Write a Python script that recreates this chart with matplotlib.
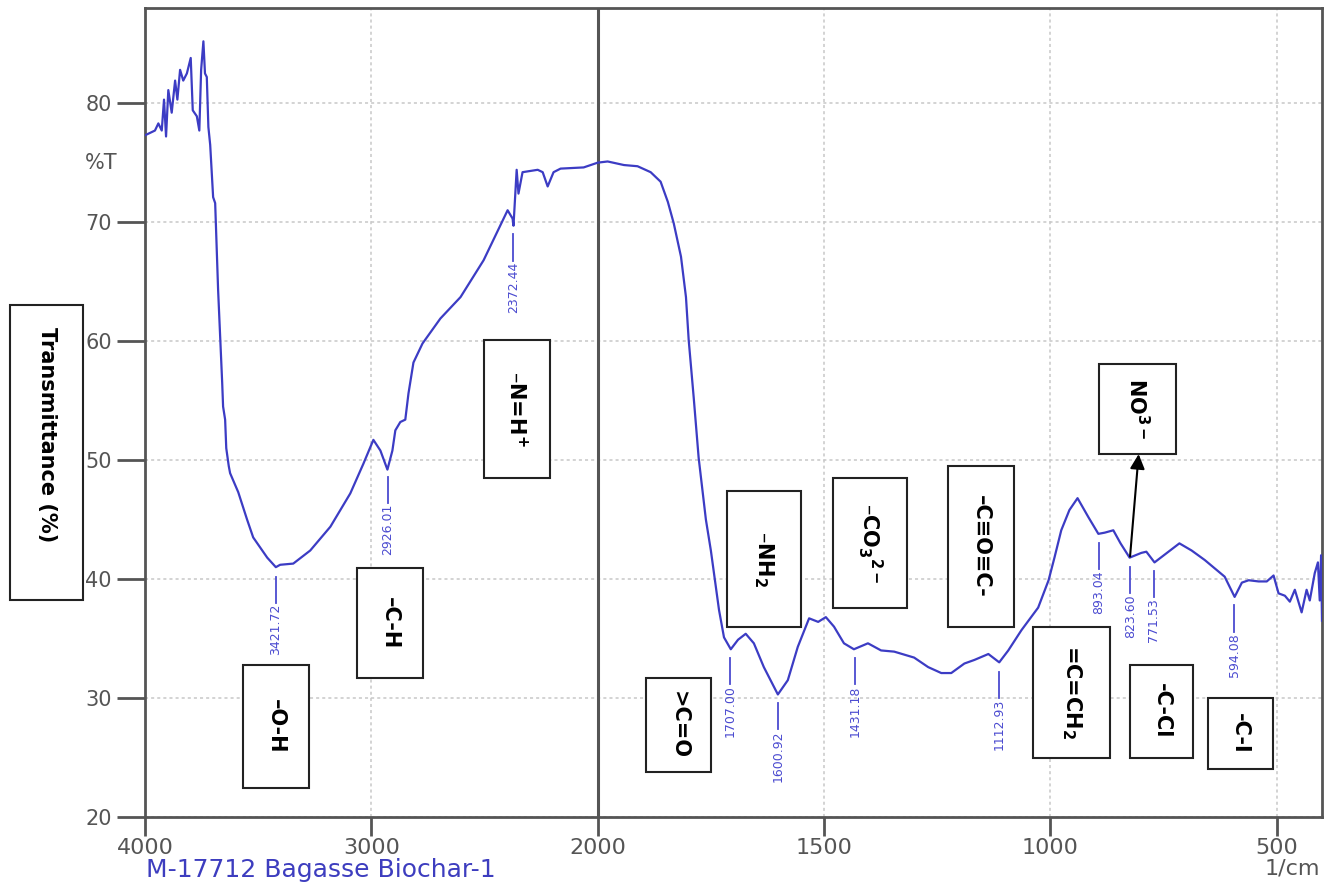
import numpy as np
import matplotlib
matplotlib.use("Agg")
import matplotlib.pyplot as plt
from matplotlib.patches import Rectangle
from matplotlib.ticker import NullLocator

plt.rcParams['font.family'] = ['DejaVu Sans']
plt.rcParams['mathtext.default'] = 'bf'

# FTIR spectrum (wavenumber 1/cm, transmittance %)
wavenumber = [4000, 3978, 3956, 3941, 3926, 3916, 3907, 3897, 3882, 3867, 3857, 3845,
              3831, 3815, 3798, 3789, 3771, 3760, 3752, 3742, 3735, 3727, 3720, 3712,
              3699, 3690, 3677, 3659, 3655, 3646, 3641, 3630, 3624, 3588, 3549, 3522,
              3460, 3422, 3403, 3345, 3270, 3181, 3093, 3035, 2991, 2960, 2929, 2907,
              2894, 2872, 2850, 2836, 2814, 2774, 2695, 2606, 2504, 2398, 2376, 2372,
              2358, 2350, 2332, 2265, 2243, 2221, 2195, 2164, 2062, 2000, 1978, 1942,
              1912, 1883, 1861, 1845, 1832, 1816, 1805, 1799, 1788, 1777, 1761, 1750,
              1732, 1721, 1706, 1690, 1673, 1655, 1633, 1602, 1580, 1558, 1533, 1513,
              1496, 1478, 1456, 1434, 1403, 1374, 1345, 1301, 1270, 1241, 1219, 1190,
              1168, 1137, 1113, 1093, 1064, 1027, 1004, 991, 976, 958, 940, 916,
              894, 880, 861, 845, 825, 799, 788, 770, 739, 715, 688, 659,
              637, 615, 593, 577, 562, 540, 522, 507, 496, 482, 471, 460,
              445, 434, 427, 416, 409, 405, 402, 400]
transmittance = [77.3, 77.5, 77.7, 78.3, 77.7, 80.3, 77.2, 81.1, 79.2, 81.9, 80.3, 82.8,
                 81.9, 82.5, 83.8, 79.4, 78.9, 77.7, 82.8, 85.2, 82.5, 82.2, 78.0, 76.5,
                 72.1, 71.6, 64.3, 56.5, 54.5, 53.4, 51.0, 49.5, 48.9, 47.3, 45.0, 43.5,
                 41.8, 41.0, 41.2, 41.3, 42.4, 44.4, 47.2, 49.7, 51.7, 50.8, 49.2, 50.8,
                 52.5, 53.2, 53.4, 55.6, 58.2, 59.8, 61.9, 63.7, 66.8, 71.0, 70.3, 69.7,
                 74.4, 72.4, 74.2, 74.4, 74.2, 73.0, 74.2, 74.5, 74.6, 75.0, 75.1, 74.8,
                 74.7, 74.2, 73.4, 71.7, 69.9, 67.1, 63.7, 60.1, 55.3, 50.2, 45.0, 42.4,
                 37.4, 35.1, 34.1, 34.9, 35.4, 34.6, 32.6, 30.3, 31.5, 34.3, 36.7, 36.4,
                 36.8, 36.0, 34.6, 34.1, 34.6, 34.0, 33.9, 33.4, 32.6, 32.1, 32.1, 32.9,
                 33.2, 33.7, 33.0, 34.0, 35.7, 37.6, 39.9, 41.8, 44.1, 45.8, 46.8, 45.2,
                 43.8, 43.9, 44.1, 43.0, 41.8, 42.2, 42.3, 41.4, 42.3, 43.0, 42.4, 41.6,
                 40.9, 40.2, 38.5, 39.7, 39.9, 39.8, 39.8, 40.3, 38.8, 38.6, 38.1, 39.1,
                 37.2, 39.1, 38.2, 40.5, 41.4, 38.2, 42.0, 36.5]

peak_wn = [3421.72, 2926.01, 2372.44, 1707.00, 1600.92, 1431.18, 1112.93,
           893.04, 823.60, 771.53, 594.08]
peak_text = ["3421.72", "2926.01", "2372.44", "1707.00", "1600.92", "1431.18",
             "1112.93", "893.04", "823.60", "771.53", "594.08"]

x_ticks = [4000, 3000, 2000, 1500, 1000, 500]
y_ticks = [20, 30, 40, 50, 60, 70, 80]

# functional group boxes: text, left wn, right wn, bottom %T, top %T
groups = [("–O-H", 3566, 3274, 22.4, 32.8),
          ("–C-H", 3062, 2770, 31.7, 40.9),
          ("–N=H$^{+}$", 2504, 2212, 48.5, 60.1),
          (">C=O", 1894, 1750, 23.8, 31.7),
          ("–NH$_2$", 1715, 1551, 36.0, 47.4),
          ("–CO$_3$$^{2-}$", 1480, 1316, 37.6, 48.5),
          ("–C≡O≡C-", 1226, 1080, 36.0, 49.5),
          ("=C=CH$_2$", 1038, 869, 25.0, 36.0),
          ("NO$^{3-}$", 892, 723, 50.5, 58.1),
          ("-C-Cl", 825, 684, 25.0, 32.8),
          ("-C-I", 652, 509, 24.0, 30.0)]


def fwd(w):
    w = np.asarray(w, dtype=float)
    return np.where(w > 2000, 2000 + (w - 2000) / 2, w)


def inv(u):
    u = np.asarray(u, dtype=float)
    return np.where(u > 2000, 2000 + (u - 2000) * 2, u)


W, H = 1326, 883
fig = plt.figure(figsize=(W / 100, H / 100), dpi=100)
ax = fig.add_axes([145 / W, 1 - 817 / H, (1322 - 145) / W, (817 - 8) / H])
ax.set_xscale('function', functions=(fwd, inv))

ax.plot(wavenumber, transmittance, color='#3c3cc4', lw=1.6, zorder=3)

ax.set_xlim(4000, 400)
ax.set_ylim(20, 88)
ax.set_xticks(x_ticks)
ax.set_xticklabels([str(t) for t in x_ticks])
ax.xaxis.set_minor_locator(NullLocator())
ax.set_yticks(y_ticks)
ax.grid(True, linestyle=(0, (2, 2)), color='#c8c8c8', lw=1.1, zorder=0)
ax.axvline(2000, color='#555555', lw=2.2, zorder=2)

for s in ax.spines.values():
    s.set_color('#555555')
    s.set_linewidth(2)
ax.tick_params(axis='y', direction='out', length=20, width=2, color='#555555',
               labelsize=15, labelcolor='#555555', pad=4)
ax.tick_params(axis='x', direction='out', length=14, width=2, color='#555555',
               labelsize=16, labelcolor='#555555', pad=1)

# peak markers
wn_sorted = np.array(wavenumber[::-1], dtype=float)
t_sorted = np.array(transmittance[::-1], dtype=float)
for w, txt in zip(peak_wn, peak_text):
    base = np.interp(w, wn_sorted, t_sorted)
    y0, y1 = base - 0.8, base - 3.0
    ax.plot([w, w], [y0, y1], color='#4b4bd0', lw=1.3, zorder=3)
    ax.text(w, y1 - 0.1, txt, rotation=90, ha='center', va='top',
            fontsize=9, color='#4b4bd0', zorder=3)

# group boxes
for txt, wl, wr, yb, yt in groups:
    ax.add_patch(Rectangle((wr, yb), wl - wr, yt - yb, fill=True, fc='white',
                           ec='#222222', lw=1.5, zorder=4))
    wc = inv((fwd(wl) + fwd(wr)) / 2)
    ax.text(float(wc), (yb + yt) / 2, txt, rotation=-90, ha='center', va='center',
            fontsize=15, fontweight='bold', color='black', zorder=5)

ax.annotate('', xy=(805, 50.5), xytext=(824, 41.9),
            arrowprops=dict(arrowstyle='-|>', color='black', lw=1.5,
                            mutation_scale=22, shrinkA=0, shrinkB=0), zorder=6)

# outside texts
fig.add_artist(Rectangle((10 / W, 1 - 600 / H), 73 / W, 295 / H, transform=fig.transFigure,
                         fill=False, ec='#222222', lw=1.5))
fig.text(46.5 / W, 1 - 435 / H, "Transmittance (%)", rotation=-90, ha='center', va='center',
         fontsize=15, fontweight='bold', color='black')
fig.text(118 / W, 1 - 163 / H, "%T", ha='right', va='center', fontsize=15, color='#555555')
fig.text(1320 / W, 1 - 869 / H, "1/cm", ha='right', va='center', fontsize=16, color='#555555')
fig.text(146 / W, 1 - 870 / H, "M-17712 Bagasse Biochar-1", ha='left', va='center',
         fontsize=18, color='#3d3dbf')

fig.savefig("out.png", dpi=100, facecolor='white')
